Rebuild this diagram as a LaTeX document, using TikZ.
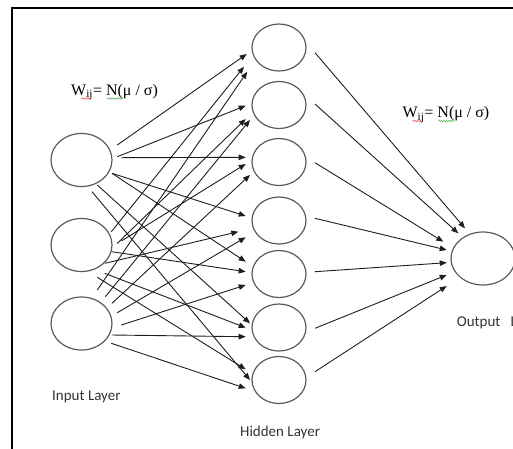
\documentclass[tikz,border=0pt]{standalone}
\usepackage{fontspec}
\setmainfont{Liberation Serif}
\newfontfamily\calibrifont{Carlito}
\usetikzlibrary{shapes.geometric,arrows.meta,decorations.pathmorphing}

\definecolor{ringgray}{HTML}{5A5A5A}
\definecolor{wiregray}{HTML}{1E1E1E}
\definecolor{labelgray}{HTML}{333333}
\definecolor{spellred}{HTML}{E05050}
\definecolor{spellgreen}{HTML}{50B050}

\tikzset{
  neuron/.style={ellipse, draw=ringgray, line width=1.2pt, inner sep=0pt,
                 minimum width=#1},
  inneuron/.style={neuron=61pt, minimum height=53pt},
  hidneuron/.style={neuron=54pt, minimum height=47pt},
  outneuron/.style={neuron=64pt, minimum height=53pt},
  conn/.style={draw=wiregray, line width=0.9pt,
               -{Triangle[length=7pt,width=5.5pt]}},
  layerlabel/.style={anchor=base west, inner sep=0pt, text=labelgray,
                     font=\calibrifont\fontsize{15}{18}\selectfont},
  weightlabel/.style={anchor=base west, inner sep=0pt, text=black,
                      font=\fontsize{16}{19}\selectfont},
  squiggle/.style={line width=0.5pt,
                   decorate, decoration={snake, segment length=2.4pt, amplitude=0.7pt}}
}

\begin{document}
\begin{tikzpicture}[x=1pt, y=-1pt]
  \useasboundingbox (0,0) rectangle (513,448);
  \clip (0,0) rectangle (513,448);

  % frame of the figure
  \draw[line width=2pt, black] (12,460) -- (12,7.5) -- (530,7.5);

  % input layer
  \node[inneuron] (in1) at (81.5,160) {};
  \node[inneuron] (in2) at (81.5,245) {};
  \node[inneuron] (in3) at (81.5,323.5) {};

  % hidden layer
  \node[hidneuron] (h1) at (279,47.5) {};
  \node[hidneuron] (h2) at (279,105) {};
  \node[hidneuron] (h3) at (279,162) {};
  \node[hidneuron] (h4) at (279,220.5) {};
  \node[hidneuron] (h5) at (279,274) {};
  \node[hidneuron] (h6) at (279,327.5) {};
  \node[hidneuron] (h7) at (279,380) {};

  % output neuron
  \node[outneuron] (out) at (483,258.5) {};

  % input -> hidden weights
  \foreach \s/\sx/\sy/\t/\tx/\ty in {
      in1/35.8/-15/h1/-32.3/6.5,
      in1/35.8/-3.3/h2/-33.3/0.7,
      in1/39.8/-2.3/h3/-33.3/-4.7,
      in1/30.5/13.3/h4/-33.3/-4.5,
      in1/30.5/13.3/h5/-33.3/-12.3,
      in1/15.8/25/h6/-29/-4.2,
      in1/10.5/31.7/h7/-29/0,
      in2/29.8/-13.3/h1/-35/19.2,
      in2/35.8/-1.7/h2/-33.3/14,
      in2/39.8/-4/h3/-33.3/2,
      in2/23.5/18.3/h4/-40.7/11.2,
      in2/30.2/6.7/h5/-33.3/-2.3,
      in2/23.2/28.3/h6/-33.3/0.2,
      in2/15.8/32.3/h7/-33.3/-10.7,
      in3/15.8/-33.5/h1/-31.7/24.2,
      in3/23.8/-26.8/h2/-29/15,
      in3/30.5/-20.2/h3/-29/13,
      in3/35.8/-10.8/h4/-33.3/16.8,
      in3/39.8/1.5/h5/-33.3/11,
      in3/30.5/11.5/h6/-33.3/9.2,
      in3/29.8/19.8/h7/-33.3/8.3}
    \draw[conn] ([shift={(\sx,\sy)}]\s.center) -- ([shift={(\tx,\ty)}]\t.center);

  % hidden -> output weights
  \foreach \s/\sy/\tx/\ty in {
      h1/5.2/-18/-30.2,
      h2/-1/-24.7/-25.2,
      h3/0.7/-39.7/-16.8,
      h4/-2.2/-36.3/-8.5,
      h5/-2.3/-36.3/4.2,
      h6/0.8/-36.3/16.5,
      h7/-8.3/-36.3/27.5}
    \draw[conn] ([shift={(36,\sy)}]\s.center) -- ([shift={(\tx,\ty)}]out.center);

  % weight initialisation labels
  \node[weightlabel] (wleft) at (71,95) {W\textsubscript{ij}= N(μ / σ)};
  \node[weightlabel] (wright) at (402.4,117.5) {W\textsubscript{ij}= N(μ / σ)};
  \draw[squiggle, spellred]   (81,98.5)   -- (91,98.5);
  \draw[squiggle, spellgreen] (107,98.5)  -- (123,98.5);
  \draw[squiggle, spellred]   (412.4,121) -- (422.4,121);
  \draw[squiggle, spellgreen] (438.4,121) -- (454.4,121);

  % layer captions
  \node[layerlabel] (inlabel)  at (52,400)    {Input Layer};
  \node[layerlabel] (hidlabel) at (240,436)   {Hidden Layer};
  \node[layerlabel] (outlabel) at (456.7,326) {Output\hspace{10pt}Layer};
\end{tikzpicture}
\end{document}
